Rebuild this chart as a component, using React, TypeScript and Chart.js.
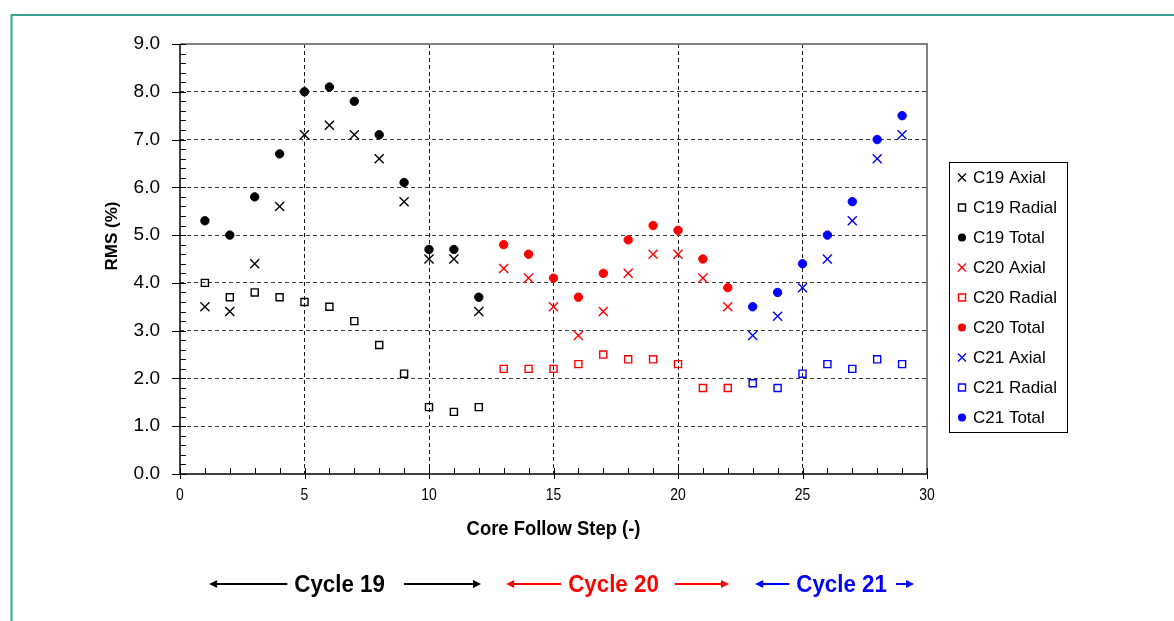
import React, { useEffect, useRef } from "react";
import { Chart, registerables } from "chart.js";

Chart.register(...registerables);

// Core follow steps per cycle
const steps19 = [1, 2, 3, 4, 5, 6, 7, 8, 9, 10, 11, 12];
const steps20 = [13, 14, 15, 16, 17, 18, 19, 20, 21, 22];
const steps21 = [23, 24, 25, 26, 27, 28, 29];

// RMS deviation (%) by component
const c19Axial = [3.5, 3.4, 4.4, 5.6, 7.1, 7.3, 7.1, 6.6, 5.7, 4.5, 4.5, 3.4];
const c19Radial = [4.0, 3.7, 3.8, 3.7, 3.6, 3.5, 3.2, 2.7, 2.1, 1.4, 1.3, 1.4];
const c19Total = [5.3, 5.0, 5.8, 6.7, 8.0, 8.1, 7.8, 7.1, 6.1, 4.7, 4.7, 3.7];

const c20Axial = [4.3, 4.1, 3.5, 2.9, 3.4, 4.2, 4.6, 4.6, 4.1, 3.5];
const c20Radial = [2.2, 2.2, 2.2, 2.3, 2.5, 2.4, 2.4, 2.3, 1.8, 1.8];
const c20Total = [4.8, 4.6, 4.1, 3.7, 4.2, 4.9, 5.2, 5.1, 4.5, 3.9];

const c21Axial = [2.9, 3.3, 3.9, 4.5, 5.3, 6.6, 7.1];
const c21Radial = [1.9, 1.8, 2.1, 2.3, 2.2, 2.4, 2.3];
const c21Total = [3.5, 3.8, 4.4, 5.0, 5.7, 7.0, 7.5];

// Axis ranges and labels
const xMin = 0;
const xMax = 30;
const xStep = 5;
const yMin = 0;
const yMax = 9;
const xTitle = "Core Follow Step (-)";
const yTitle = "RMS (%)";

// Cycle bands shown under the axis
const cycleNames = ["Cycle 19", "Cycle 20", "Cycle 21"];
const cycleColors = ["#000000", "#ff0000", "#0000ff"];
const cycleFrom = [1.17, 13.1, 23.1];
const cycleTo = [12.09, 22.05, 29.48];
const cycleLabelAt = [6.41, 17.41, 26.57];
const cycleRightGap = [19, 16, 9];

const SANS = '"Liberation Sans", Arial, sans-serif';

type Marker = "crossRot" | "rect" | "circle";

function series(label: string, xs: number[], ys: number[], color: string, style: Marker) {
  return {
    label,
    data: xs.map((x, i) => ({ x, y: ys[i] })),
    showLine: false,
    pointStyle: style,
    pointRadius: style === "crossRot" ? 6.4 : style === "rect" ? 5 : 4.2,
    pointBorderWidth: style === "circle" ? 1 : 1.4,
    borderColor: color,
    backgroundColor: style === "rect" ? "rgba(255,255,255,0)" : color,
    pointBackgroundColor: style === "rect" ? "rgba(255,255,255,0)" : color,
    pointBorderColor: color,
  };
}

// Text squeezed horizontally, for the condensed captions
function condensedText(
  ctx: CanvasRenderingContext2D,
  text: string,
  x: number,
  y: number,
  font: string,
  sx: number,
  color: string
) {
  ctx.save();
  ctx.font = font;
  ctx.fillStyle = color;
  ctx.textAlign = "center";
  ctx.textBaseline = "middle";
  ctx.translate(x, y);
  ctx.scale(sx, 1);
  ctx.fillText(text, 0, 0);
  const w = ctx.measureText(text).width * sx;
  ctx.restore();
  return w;
}

function drawMarker(ctx: CanvasRenderingContext2D, style: string, x: number, y: number, color: string) {
  ctx.save();
  ctx.strokeStyle = color;
  ctx.fillStyle = color;
  ctx.lineWidth = 1.4;
  ctx.beginPath();
  if (style === "crossRot") {
    const d = 4;
    ctx.moveTo(x - d, y - d);
    ctx.lineTo(x + d, y + d);
    ctx.moveTo(x + d, y - d);
    ctx.lineTo(x - d, y + d);
    ctx.stroke();
  } else if (style === "rect") {
    ctx.rect(x - 3.5, y - 3.5, 7, 7);
    ctx.stroke();
  } else {
    ctx.arc(x, y, 4, 0, Math.PI * 2);
    ctx.fill();
  }
  ctx.restore();
}

function drawArrow(ctx: CanvasRenderingContext2D, from: number, to: number, y: number, color: string) {
  const dir = Math.sign(to - from);
  ctx.save();
  ctx.strokeStyle = color;
  ctx.fillStyle = color;
  ctx.lineWidth = 2;
  ctx.beginPath();
  ctx.moveTo(from, y);
  ctx.lineTo(to - dir * 5, y);
  ctx.stroke();
  ctx.beginPath();
  ctx.moveTo(to, y);
  ctx.lineTo(to - dir * 8, y - 4);
  ctx.lineTo(to - dir * 8, y + 4);
  ctx.closePath();
  ctx.fill();
  ctx.restore();
}

const decorPlugin = {
  id: "decor",
  beforeDraw(chart: any) {
    const ctx: CanvasRenderingContext2D = chart.ctx;
    ctx.save();
    ctx.fillStyle = "#ffffff";
    ctx.fillRect(0, 0, chart.width, chart.height);
    // outer teal frame
    ctx.strokeStyle = "#34a595";
    ctx.lineWidth = 2;
    ctx.beginPath();
    ctx.moveTo(11.5, chart.height + 5);
    ctx.lineTo(11.5, 15);
    ctx.lineTo(chart.width + 5, 15);
    ctx.stroke();
    ctx.restore();
  },
  beforeDatasetsDraw(chart: any) {
    const ctx: CanvasRenderingContext2D = chart.ctx;
    const { left, right, top, bottom } = chart.chartArea;
    const xs = chart.scales.x;
    const ys = chart.scales.y;
    ctx.save();
    // top and right plot edges
    ctx.strokeStyle = "#808080";
    ctx.lineWidth = 2;
    ctx.beginPath();
    ctx.moveTo(left, top);
    ctx.lineTo(right, top);
    ctx.lineTo(right, bottom);
    ctx.stroke();
    // axes
    ctx.strokeStyle = "#000000";
    ctx.lineWidth = 1.5;
    ctx.beginPath();
    ctx.moveTo(left, top);
    ctx.lineTo(left, bottom);
    ctx.lineTo(right, bottom);
    ctx.stroke();
    // y ticks: minor every 0.2 inside, major every 1 across the axis
    ctx.lineWidth = 1;
    ctx.beginPath();
    for (let i = 0; i <= (yMax - yMin) * 5; i++) {
      const v = yMin + i * 0.2;
      const py = Math.round(ys.getPixelForValue(v)) + 0.5;
      const major = i % 5 === 0;
      ctx.moveTo(major ? left - 8 : left, py);
      ctx.lineTo(left + 6, py);
    }
    // x ticks: minor every 1 inside, major every 5 across
    for (let v = xMin; v <= xMax; v++) {
      const px = Math.round(xs.getPixelForValue(v)) + 0.5;
      const major = v % xStep === 0;
      ctx.moveTo(px, bottom - 6);
      ctx.lineTo(px, major ? bottom + 5 : bottom);
    }
    ctx.stroke();
    ctx.restore();
  },
  afterDraw(chart: any) {
    const ctx: CanvasRenderingContext2D = chart.ctx;
    const { left, right } = chart.chartArea;
    const xs = chart.scales.x;
    ctx.save();

    // x tick labels
    for (let v = xMin; v <= xMax; v += xStep) {
      condensedText(ctx, String(v), xs.getPixelForValue(v), 495, `17px ${SANS}`, 0.82, "#000000");
    }

    // y title
    ctx.fillStyle = "#000000";
    ctx.font = `bold 17px ${SANS}`;
    ctx.textAlign = "center";
    ctx.textBaseline = "middle";
    ctx.translate(112, 236);
    ctx.rotate(-Math.PI / 2);
    ctx.fillText(yTitle, 0, 0);
    ctx.setTransform(1, 0, 0, 1, 0, 0);

    // x title
    condensedText(ctx, xTitle, (left + right) / 2, 529, `bold 20px ${SANS}`, 0.92, "#000000");

    // legend box
    ctx.strokeStyle = "#000000";
    ctx.lineWidth = 1;
    ctx.strokeRect(949.5, 162.5, 118, 270);
    ctx.font = `17px ${SANS}`;
    ctx.textAlign = "left";
    ctx.textBaseline = "middle";
    chart.data.datasets.forEach((ds: any, i: number) => {
      const y = 177.5 + i * 30;
      drawMarker(ctx, ds.pointStyle, 962, y, ds.borderColor);
      ctx.fillStyle = "#000000";
      ctx.fillText(ds.label, 973, y + 1);
    });

    // cycle bands
    cycleNames.forEach((name, i) => {
      const cx = xs.getPixelForValue(cycleLabelAt[i]);
      const y = 584;
      const w = condensedText(ctx, name, cx, y + 1, `bold 24px ${SANS}`, 0.93, cycleColors[i]);
      drawArrow(ctx, cx - w / 2 - 7, xs.getPixelForValue(cycleFrom[i]), y, cycleColors[i]);
      drawArrow(ctx, cx + w / 2 + cycleRightGap[i], xs.getPixelForValue(cycleTo[i]), y, cycleColors[i]);
    });
    ctx.restore();
  },
};

export default function App() {
  const canvasRef = useRef<HTMLCanvasElement | null>(null);

  useEffect(() => {
    if (!canvasRef.current) return;
    const chart = new Chart(canvasRef.current, {
      type: "scatter",
      data: {
        datasets: [
          series("C19 Axial", steps19, c19Axial, "#000000", "crossRot"),
          series("C19 Radial", steps19, c19Radial, "#000000", "rect"),
          series("C19 Total", steps19, c19Total, "#000000", "circle"),
          series("C20 Axial", steps20, c20Axial, "#ff0000", "crossRot"),
          series("C20 Radial", steps20, c20Radial, "#ff0000", "rect"),
          series("C20 Total", steps20, c20Total, "#ff0000", "circle"),
          series("C21 Axial", steps21, c21Axial, "#0000ff", "crossRot"),
          series("C21 Radial", steps21, c21Radial, "#0000ff", "rect"),
          series("C21 Total", steps21, c21Total, "#0000ff", "circle"),
        ] as any,
      },
      options: {
        responsive: false,
        animation: false,
        devicePixelRatio: 1,
        layout: { padding: { left: 100, right: 247, top: 44, bottom: 107 } },
        plugins: { legend: { display: false }, tooltip: { enabled: false } },
        scales: {
          x: {
            type: "linear",
            min: xMin,
            max: xMax,
            ticks: { stepSize: xStep, display: false },
            grid: {
              drawTicks: false,
              lineWidth: 1,
              color: (c: any) =>
                c.tick && (c.tick.value === xMin || c.tick.value === xMax) ? "rgba(0,0,0,0)" : "#1a1a1a",
            },
            border: { display: false, dash: [4, 3] },
            afterFit: (s: any) => {
              s.height = 40;
            },
          },
          y: {
            type: "linear",
            min: yMin,
            max: yMax,
            ticks: {
              stepSize: 1,
              padding: 20,
              color: "#000000",
              font: { family: SANS, size: 19 },
              callback: (v: any) => Number(v).toFixed(1),
            },
            grid: {
              drawTicks: false,
              lineWidth: 1,
              color: (c: any) =>
                c.tick && (c.tick.value === yMin || c.tick.value === yMax) ? "rgba(0,0,0,0)" : "#3a3a3a",
            },
            border: { display: false, dash: [4, 3] },
            afterFit: (s: any) => {
              s.width = 80;
            },
          },
        },
      },
      plugins: [decorPlugin],
    });
    return () => chart.destroy();
  }, []);

  return (
    <div style={{ position: "fixed", left: 0, top: 0, width: 1174, height: 621, background: "#ffffff" }}>
      <canvas ref={canvasRef} width={1174} height={621} style={{ display: "block" }} />
    </div>
  );
}
